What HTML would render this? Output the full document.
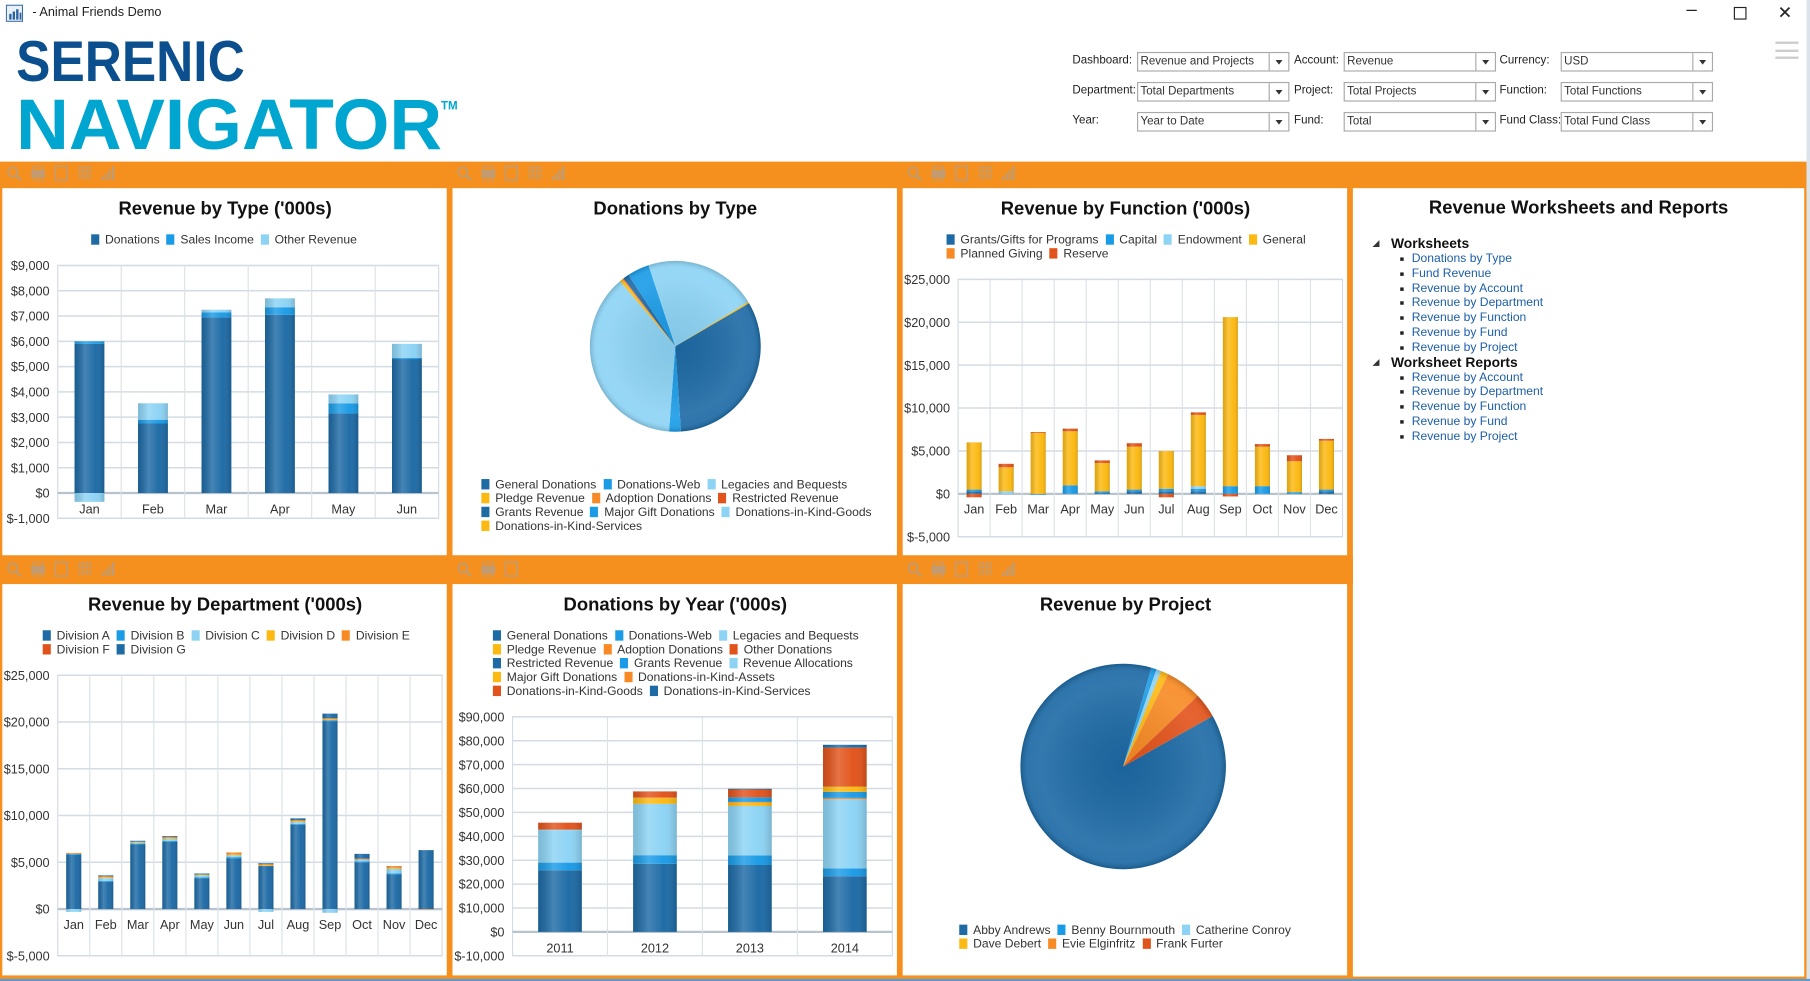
<!DOCTYPE html>
<html><head><meta charset="utf-8">
<style>
html,body{margin:0;padding:0;width:1810px;height:981px;overflow:hidden;background:#fff;font-family:"Liberation Sans",sans-serif;}
#root{position:absolute;left:0;top:0;width:1568px;height:850px;transform:scale(1.15434);transform-origin:0 0;}
.abs{position:absolute;}
.lbl{position:absolute;font-size:10px;color:#222;white-space:nowrap;}
.sel{position:absolute;width:128px;height:15px;border:1px solid #a9a9a9;font-size:10px;color:#333;line-height:15px;padding-left:2px;box-sizing:content-box;background:#fff;white-space:nowrap;}
.sel .arr{position:absolute;right:0;top:0;width:16px;height:15px;border-left:1px solid #a9a9a9;}
.sel .arr:after{content:"";position:absolute;left:5px;top:6px;border-left:3.5px solid transparent;border-right:3.5px solid transparent;border-top:4px solid #333;}
.panel{position:absolute;background:#fff;}
.legend{position:absolute;font-size:10.5px;color:#333;white-space:nowrap;line-height:12px;}
.legend .row{height:12px;}
.legend .it{display:inline-block;margin-right:6px;}
.legend .mk{display:inline-block;width:7px;height:9px;margin-right:5px;vertical-align:-1px;}
.tree{position:absolute;left:1186px;top:205px;font-size:10.5px;}
.tree .h{font-weight:bold;font-size:12px;color:#111;height:13px;line-height:13px;position:relative;padding-left:19px;}
.tree .h:before{content:"";position:absolute;left:3px;top:3px;border-left:6px solid transparent;border-bottom:6px solid #333;}
.tree .i{color:#1d5ea8;height:12.8px;line-height:12.8px;padding-left:37px;position:relative;}
.tree .i:before{content:"";position:absolute;left:27px;top:5px;width:3px;height:3px;background:#222;}
</style></head>
<body>
<div id="root">
  <svg class="abs" style="left:5px;top:4px" width="15" height="15">
    <rect x="0.5" y="0.5" width="14" height="14" fill="#e8f0f8" stroke="#3a6ea5"/>
    <rect x="3" y="8" width="2" height="5" fill="#2a5fa0"/><rect x="6" y="6" width="2" height="7" fill="#2a5fa0"/><rect x="9" y="4" width="2" height="9" fill="#2a5fa0"/><rect x="12" y="7" width="1.5" height="6" fill="#2a5fa0"/>
  </svg>
  <div class="lbl" style="left:28px;top:5px;font-size:11px">- Animal Friends Demo</div>
  <div class="lbl" style="left:1461px;top:0px;font-size:16px">&#8211;</div>
  <div class="abs" style="left:1502px;top:6px;width:9px;height:9px;border:1px solid #222"></div>
  <div class="lbl" style="left:1540px;top:2px;font-size:15px">&#x2715;</div>

  <svg class="abs" style="left:0;top:25px" width="420" height="112">
    <text x="14" y="45" font-family="Liberation Sans Narrow, Liberation Sans, sans-serif" font-weight="bold" font-size="50" fill="#0b4f8e" textLength="198" lengthAdjust="spacingAndGlyphs">SERENIC</text>
    <text x="14" y="104" font-family="Liberation Sans Narrow, Liberation Sans, sans-serif" font-weight="bold" font-size="62" fill="#00a6cf" textLength="369" lengthAdjust="spacingAndGlyphs">NAVIGATOR</text>
    <text x="382" y="70" font-family="Liberation Sans, sans-serif" font-weight="bold" font-size="10" fill="#00a6cf">TM</text>
  </svg>

  <div class="lbl" style="left:929px;top:47px">Dashboard:</div>
  <div class="sel" style="left:985px;top:45px">Revenue and Projects<div class="arr"></div></div>
  <div class="lbl" style="left:1121px;top:47px">Account:</div>
  <div class="sel" style="left:1164px;top:45px">Revenue<div class="arr"></div></div>
  <div class="lbl" style="left:1299px;top:47px">Currency:</div>
  <div class="sel" style="left:1352px;top:45px">USD<div class="arr"></div></div>

  <div class="lbl" style="left:929px;top:73px">Department:</div>
  <div class="sel" style="left:985px;top:71px">Total Departments<div class="arr"></div></div>
  <div class="lbl" style="left:1121px;top:73px">Project:</div>
  <div class="sel" style="left:1164px;top:71px">Total Projects<div class="arr"></div></div>
  <div class="lbl" style="left:1299px;top:73px">Function:</div>
  <div class="sel" style="left:1352px;top:71px">Total Functions<div class="arr"></div></div>

  <div class="lbl" style="left:929px;top:99px">Year:</div>
  <div class="sel" style="left:985px;top:97px">Year to Date<div class="arr"></div></div>
  <div class="lbl" style="left:1121px;top:99px">Fund:</div>
  <div class="sel" style="left:1164px;top:97px">Total<div class="arr"></div></div>
  <div class="lbl" style="left:1299px;top:99px">Fund Class:</div>
  <div class="sel" style="left:1352px;top:97px">Total Fund Class<div class="arr"></div></div>

  <div class="abs" style="left:1538px;top:36px;width:20px;height:15px">
    <div style="height:2px;background:#ccc;margin-bottom:4.5px"></div><div style="height:2px;background:#ccc;margin-bottom:4.5px"></div><div style="height:2px;background:#ccc"></div>
  </div>

  <div class="abs" style="left:0;top:140px;width:1565px;height:709px;background:#f5901e"></div>
  <div class="abs" style="left:1565px;top:0;width:3px;height:850px;background:#dde3ea"></div>
  <div class="abs" style="left:0;top:848px;width:1568px;height:2px;background:#5b9bd5"></div>

  <div class="panel" style="left:2px;top:163px;width:385px;height:318px"></div>
  <div class="panel" style="left:392px;top:163px;width:385px;height:318px"></div>
  <div class="panel" style="left:782px;top:163px;width:385px;height:318px"></div>
  <div class="panel" style="left:1172px;top:163px;width:391px;height:683px"></div>
  <div class="panel" style="left:1168px;top:482px;width:4px;height:24px;background:#f5901e"></div>
  <div class="panel" style="left:2px;top:506px;width:385px;height:339px"></div>
  <div class="panel" style="left:392px;top:506px;width:385px;height:339px"></div>
  <div class="panel" style="left:782px;top:506px;width:385px;height:339px"></div>

  <svg id="charts" class="abs" style="left:0;top:0" width="1568" height="850">
    <defs>
      <linearGradient id="sheen" x1="0" x2="1" y1="0" y2="0">
        <stop offset="0" stop-color="#000" stop-opacity="0.12"/>
        <stop offset="0.35" stop-color="#fff" stop-opacity="0.18"/>
        <stop offset="0.7" stop-color="#fff" stop-opacity="0.02"/>
        <stop offset="1" stop-color="#000" stop-opacity="0.15"/>
      </linearGradient>
      <radialGradient id="pieShade" cx="0.5" cy="0.5" r="0.5">
        <stop offset="0" stop-color="#000" stop-opacity="0.06"/>
        <stop offset="0.8" stop-color="#fff" stop-opacity="0.1"/>
        <stop offset="0.93" stop-color="#fff" stop-opacity="0.08"/>
        <stop offset="1" stop-color="#000" stop-opacity="0.15"/>
      </radialGradient>
    </defs>
  </svg>

  <div class="legend" style="left:79px;top:202px">
    <div class="row"><span class="it"><span class="mk" style="background:#1d6aa5"></span>Donations</span><span class="it"><span class="mk" style="background:#1a9be6"></span>Sales Income</span><span class="it"><span class="mk" style="background:#8cd3f4"></span>Other Revenue</span></div>
  </div>
  <div class="legend" style="left:417px;top:414px">
    <div class="row"><span class="it"><span class="mk" style="background:#1d6aa5"></span>General Donations</span><span class="it"><span class="mk" style="background:#1a9be6"></span>Donations-Web</span><span class="it"><span class="mk" style="background:#8cd3f4"></span>Legacies and Bequests</span></div>
    <div class="row"><span class="it"><span class="mk" style="background:#fcb912"></span>Pledge Revenue</span><span class="it"><span class="mk" style="background:#f78a24"></span>Adoption Donations</span><span class="it"><span class="mk" style="background:#e2531b"></span>Restricted Revenue</span></div>
    <div class="row"><span class="it"><span class="mk" style="background:#1d6aa5"></span>Grants Revenue</span><span class="it"><span class="mk" style="background:#1a9be6"></span>Major Gift Donations</span><span class="it"><span class="mk" style="background:#8cd3f4"></span>Donations-in-Kind-Goods</span></div>
    <div class="row"><span class="it"><span class="mk" style="background:#fcb912"></span>Donations-in-Kind-Services</span></div>
  </div>
  <div class="legend" style="left:820px;top:202px">
    <div class="row"><span class="it"><span class="mk" style="background:#1d6aa5"></span>Grants/Gifts for Programs</span><span class="it"><span class="mk" style="background:#1a9be6"></span>Capital</span><span class="it"><span class="mk" style="background:#8cd3f4"></span>Endowment</span><span class="it"><span class="mk" style="background:#fcb912"></span>General</span></div>
    <div class="row"><span class="it"><span class="mk" style="background:#f78a24"></span>Planned Giving</span><span class="it"><span class="mk" style="background:#e2531b"></span>Reserve</span></div>
  </div>
  <div class="legend" style="left:37px;top:545px">
    <div class="row"><span class="it"><span class="mk" style="background:#1d6aa5"></span>Division A</span><span class="it"><span class="mk" style="background:#1a9be6"></span>Division B</span><span class="it"><span class="mk" style="background:#8cd3f4"></span>Division C</span><span class="it"><span class="mk" style="background:#fcb912"></span>Division D</span><span class="it"><span class="mk" style="background:#f78a24"></span>Division E</span></div>
    <div class="row"><span class="it"><span class="mk" style="background:#e2531b"></span>Division F</span><span class="it"><span class="mk" style="background:#1d6aa5"></span>Division G</span></div>
  </div>
  <div class="legend" style="left:427px;top:545px">
    <div class="row"><span class="it"><span class="mk" style="background:#1d6aa5"></span>General Donations</span><span class="it"><span class="mk" style="background:#1a9be6"></span>Donations-Web</span><span class="it"><span class="mk" style="background:#8cd3f4"></span>Legacies and Bequests</span></div>
    <div class="row"><span class="it"><span class="mk" style="background:#fcb912"></span>Pledge Revenue</span><span class="it"><span class="mk" style="background:#f78a24"></span>Adoption Donations</span><span class="it"><span class="mk" style="background:#e2531b"></span>Other Donations</span></div>
    <div class="row"><span class="it"><span class="mk" style="background:#1d6aa5"></span>Restricted Revenue</span><span class="it"><span class="mk" style="background:#1a9be6"></span>Grants Revenue</span><span class="it"><span class="mk" style="background:#8cd3f4"></span>Revenue Allocations</span></div>
    <div class="row"><span class="it"><span class="mk" style="background:#fcb912"></span>Major Gift Donations</span><span class="it"><span class="mk" style="background:#f78a24"></span>Donations-in-Kind-Assets</span></div>
    <div class="row"><span class="it"><span class="mk" style="background:#e2531b"></span>Donations-in-Kind-Goods</span><span class="it"><span class="mk" style="background:#1d6aa5"></span>Donations-in-Kind-Services</span></div>
  </div>
  <div class="legend" style="left:831px;top:800px">
    <div class="row"><span class="it"><span class="mk" style="background:#1d6aa5"></span>Abby Andrews</span><span class="it"><span class="mk" style="background:#1a9be6"></span>Benny Bournmouth</span><span class="it"><span class="mk" style="background:#8cd3f4"></span>Catherine Conroy</span></div>
    <div class="row"><span class="it"><span class="mk" style="background:#fcb912"></span>Dave Debert</span><span class="it"><span class="mk" style="background:#f78a24"></span>Evie Elginfritz</span><span class="it"><span class="mk" style="background:#e2531b"></span>Frank Furter</span></div>
  </div>

  <div class="abs" style="left:1172px;top:172px;width:391px;text-align:center;font-weight:bold;font-size:16px;color:#111">Revenue Worksheets and Reports</div>
  <div class="tree">
    <div class="h">Worksheets</div>
    <div class="i">Donations by Type</div>
    <div class="i">Fund Revenue</div>
    <div class="i">Revenue by Account</div>
    <div class="i">Revenue by Department</div>
    <div class="i">Revenue by Function</div>
    <div class="i">Revenue by Fund</div>
    <div class="i">Revenue by Project</div>
    <div class="h">Worksheet Reports</div>
    <div class="i">Revenue by Account</div>
    <div class="i">Revenue by Department</div>
    <div class="i">Revenue by Function</div>
    <div class="i">Revenue by Fund</div>
    <div class="i">Revenue by Project</div>
  </div>
</div>

<script>
const DK='#1d6aa5', MD='#1a9be6', LT='#8cd3f4', YE='#fcb912', OR='#f78a24', RD='#e2531b';

const typeMonths=['Jan','Feb','Mar','Apr','May','Jun'];
const typeDonations=[5900,2750,6950,7050,3150,5300];
const typeSales=[100,150,200,300,400,50];
const typeOther=[-350,650,100,350,350,550];

const donTypeLabels=['General Donations','Donations-Web','Legacies and Bequests','Pledge Revenue','Adoption Donations','Restricted Revenue','Grants Revenue','Major Gift Donations','Donations-in-Kind-Goods','Donations-in-Kind-Services'];
const donTypeValues=[116.5,8,135.5,2,0.5,0.5,4,15,77,1];

const funcMonths=['Jan','Feb','Mar','Apr','May','Jun','Jul','Aug','Sep','Oct','Nov','Dec'];
const funcGrants=[300,0,0,0,100,300,300,300,0,0,0,300];
const funcCapital=[200,0,-100,1000,200,200,300,300,900,900,200,200];
const funcEndowment=[0,300,0,0,0,0,0,300,0,0,0,0];
const funcGeneral=[5500,2800,7100,6300,3300,5000,4400,8300,19700,4600,3600,5700];
const funcPlanned=[0,0,0,0,0,0,0,0,0,0,0,0];
const funcReserve=[-400,400,100,300,300,400,-400,300,-300,300,700,200];

const deptMonths=['Jan','Feb','Mar','Apr','May','Jun','Jul','Aug','Sep','Oct','Nov','Dec'];
const deptA=[5800,2900,6900,7200,3300,5400,4600,9000,20100,5000,3700,6300];
const deptB=[100,100,100,100,100,150,0,100,100,100,100,0];
const deptC=[-300,300,100,200,200,200,-300,200,-400,200,500,0];
const deptD=[0,100,100,100,100,100,100,100,100,0,100,0];
const deptE=[100,100,0,100,0,200,100,100,100,100,200,-50];
const deptF=[0,0,0,0,0,0,0,0,0,0,0,0];
const deptG=[0,100,100,100,100,0,100,200,500,500,0,0];

const years=['2011','2012','2013','2014'];
const yrGeneral=[25800,28500,28000,23300];
const yrWeb=[3200,3600,4000,3300];
const yrLegacies=[13500,21500,20700,29000];
const yrPledge=[0,2400,1400,0];
const yrAdoption=[0,300,300,500];
const yrOther=[0,0,0,0];
const yrRestricted=[0,0,0,0];
const yrGrants=[0,0,1900,2500];
const yrAllocations=[300,0,0,0];
const yrMajorGift=[0,0,0,2200];
const yrDikAssets=[0,0,0,0];
const yrDikGoods=[2900,2500,3300,16300];
const yrDikServices=[0,0,300,1200];

const projLabels=['Abby Andrews','Benny Bournmouth','Catherine Conroy','Dave Debert','Evie Elginfritz','Frank Furter'];
const projValues=[315,3,2.7,4.3,20.6,14];

const NS='http://www.w3.org/2000/svg';
const svg=document.getElementById('charts');
function mk(tag,parent){const e=document.createElementNS(NS,tag);parent.appendChild(e);return e;}
function fmt(v){const s=Math.abs(v).toLocaleString('en-US');return v<0?'$-'+s:'$'+s;}

function title(txt,cx,y,name){
  const t=mk('text',svg);
  
  
  t.setAttribute('x',cx);t.setAttribute('y',y);t.setAttribute('text-anchor','middle');
  t.setAttribute('font-size','16');t.setAttribute('font-weight','bold');t.setAttribute('fill','#111');
  t.setAttribute('font-family','Liberation Sans, sans-serif');
  t.textContent=txt;
}

function toolbar(x,y,n,name){
  const g=mk('g',svg);
  
  
  for(let i=0;i<n;i++){
    const ix=x+6+i*20;
    const ic=mk('g',g);
    
    
    ic.setAttribute('opacity','0.55');
    if(i===0){const c=mk('circle',ic);c.setAttribute('cx',ix+5);c.setAttribute('cy',y+6);c.setAttribute('r',4);c.setAttribute('fill','none');c.setAttribute('stroke','#9aa6b4');c.setAttribute('stroke-width','1.6');
      const l=mk('line',ic);l.setAttribute('x1',ix+8);l.setAttribute('y1',y+9);l.setAttribute('x2',ix+12);l.setAttribute('y2',y+13);l.setAttribute('stroke','#9aa6b4');l.setAttribute('stroke-width','2');}
    else if(i===1){const r=mk('rect',ic);r.setAttribute('x',ix+1);r.setAttribute('y',y+4);r.setAttribute('width',12);r.setAttribute('height',7);r.setAttribute('fill','#9aa6b4');
      const r2=mk('rect',ic);r2.setAttribute('x',ix+3);r2.setAttribute('y',y+1);r2.setAttribute('width',8);r2.setAttribute('height',12);r2.setAttribute('fill','none');r2.setAttribute('stroke','#9aa6b4');}
    else if(i===2){const r=mk('rect',ic);r.setAttribute('x',ix+2);r.setAttribute('y',y+1);r.setAttribute('width',10);r.setAttribute('height',12);r.setAttribute('fill','none');r.setAttribute('stroke','#9aa6b4');r.setAttribute('stroke-width','1.4');}
    else if(i===3){for(let a=0;a<4;a++)for(let b=0;b<4;b++){const r=mk('rect',ic);r.setAttribute('x',ix+2+a*3);r.setAttribute('y',y+1+b*3);r.setAttribute('width',2);r.setAttribute('height',2);r.setAttribute('fill','#9aa6b4');}}
    else {for(let a=0;a<4;a++){const r=mk('rect',ic);r.setAttribute('x',ix+2+a*3);r.setAttribute('y',y+13-(a+1)*3);r.setAttribute('width',2);r.setAttribute('height',(a+1)*3);r.setAttribute('fill','#9aa6b4');}}
  }
}

function barChart(o){
  const g=mk('g',svg);
  
  
  const {x0,x1,yTop,yBot,vmin,vmax,step,cats,series,colors}=o;
  const y=v=>yTop+(vmax-v)/(vmax-vmin)*(yBot-yTop);
  const band=(x1-x0)/cats.length;
  const bg=mk('rect',g);bg.setAttribute('x',x0);bg.setAttribute('y',yTop);bg.setAttribute('width',x1-x0);bg.setAttribute('height',yBot-yTop);bg.setAttribute('fill','#fff');bg.setAttribute('stroke','#d3dce4');
  for(let v=vmin;v<=vmax;v+=step){
    const l=mk('line',g);
    
    
    l.setAttribute('x1',x0);l.setAttribute('x2',x1);l.setAttribute('y1',y(v));l.setAttribute('y2',y(v));
    l.setAttribute('stroke',v===0?'#b7c3cd':'#d3dce4');l.setAttribute('stroke-width',v===0?2:1.3);
    const t=mk('text',g);
    
    
    t.setAttribute('x',x0-7);t.setAttribute('y',y(v)+4);t.setAttribute('text-anchor','end');t.setAttribute('font-size','11');t.setAttribute('fill','#333');t.setAttribute('font-family','Liberation Sans, sans-serif');
    t.textContent=fmt(v);
  }
  for(let i=1;i<cats.length;i++){
    const l=mk('line',g);l.setAttribute('x1',x0+i*band);l.setAttribute('x2',x0+i*band);l.setAttribute('y1',yTop);l.setAttribute('y2',yBot);l.setAttribute('stroke','#dbe2e8');
  }
  const bw=band*o.frac;
  cats.forEach((c,i)=>{
    const cx=x0+band*(i+0.5);
    let pos=0,neg=0;
    series.forEach((s,k)=>{
      const v=s[i]; if(!v) return;
      let a,b; if(v>0){a=pos;b=pos+v;pos=b;}else{a=neg;b=neg+v;neg=b;}
      const top=y(Math.max(a,b)), h=Math.abs(y(a)-y(b));
      const r=mk('rect',g);
      
      
      r.setAttribute('x',cx-bw/2);r.setAttribute('y',top);r.setAttribute('width',bw);r.setAttribute('height',h);r.setAttribute('fill',colors[k]);
      const s2=mk('rect',g);s2.setAttribute('x',cx-bw/2);s2.setAttribute('y',top);s2.setAttribute('width',bw);s2.setAttribute('height',h);s2.setAttribute('fill','url(#sheen)');
    });
    const t=mk('text',g);
    
    
    t.setAttribute('x',cx);t.setAttribute('y',o.labelY);t.setAttribute('text-anchor','middle');t.setAttribute('font-size','11');t.setAttribute('fill','#333');t.setAttribute('font-family','Liberation Sans, sans-serif');
    t.textContent=c;
  });
}

function pie(o){
  const g=mk('g',svg);
  
  
  const tot=o.values.reduce((a,b)=>a+b,0);
  let ang=o.start;
  o.values.forEach((v,k)=>{
    const a0=ang, a1=ang+v/tot*360; ang=a1;
    const p=(a)=>[o.cx+o.r*Math.sin(a*Math.PI/180), o.cy-o.r*Math.cos(a*Math.PI/180)];
    const [sx,sy]=p(a0),[ex,ey]=p(a1);
    const path=mk('path',g);
    
    
    path.setAttribute('d',`M${o.cx},${o.cy} L${sx},${sy} A${o.r},${o.r} 0 ${a1-a0>180?1:0} 1 ${ex},${ey} Z`);
    path.setAttribute('fill',o.colors[k]);
  });
  const c=mk('circle',g);c.setAttribute('cx',o.cx);c.setAttribute('cy',o.cy);c.setAttribute('r',o.r);c.setAttribute('fill','url(#pieShade)');
}

toolbar(0,143,5,'revenue-by-type-toolbar');
toolbar(390,143,5,'donations-by-type-toolbar');
toolbar(780,143,5,'revenue-by-function-toolbar');
toolbar(0,486,5,'revenue-by-department-toolbar');
toolbar(390,486,3,'donations-by-year-toolbar');
toolbar(780,486,5,'revenue-by-project-toolbar');

title("Revenue by Type ('000s)",195,186,'revenue-by-type-title');
title('Donations by Type',585,186,'donations-by-type-title');
title("Revenue by Function ('000s)",975,186,'revenue-by-function-title');
title("Revenue by Department ('000s)",195,529,'revenue-by-department-title');
title("Donations by Year ('000s)",585,529,'donations-by-year-title');
title('Revenue by Project',975,529,'revenue-by-project-title');

barChart({name:'revenue-by-type-chart',x0:50,x1:380,yTop:230,yBot:449,vmin:-1000,vmax:9000,step:1000,cats:typeMonths,
  series:[typeDonations,typeSales,typeOther],colors:[DK,MD,LT],frac:0.47,labelY:445});
pie({name:'donations-by-type-pie',cx:585,cy:300,r:74,start:59.7,values:donTypeValues,colors:[DK,MD,LT,YE,OR,RD,DK,MD,LT,YE]});
barChart({name:'revenue-by-function-chart',x0:830,x1:1163,yTop:242,yBot:465,vmin:-5000,vmax:25000,step:5000,cats:funcMonths,
  series:[funcGrants,funcCapital,funcEndowment,funcGeneral,funcPlanned,funcReserve],colors:[DK,MD,LT,YE,OR,RD],frac:0.47,labelY:445});
barChart({name:'revenue-by-department-chart',x0:50,x1:383,yTop:585,yBot:828,vmin:-5000,vmax:25000,step:5000,cats:deptMonths,
  series:[deptA,deptB,deptC,deptD,deptE,deptF,deptG],colors:[DK,MD,LT,YE,OR,RD,DK],frac:0.47,labelY:805});
barChart({name:'donations-by-year-chart',x0:444,x1:773,yTop:621,yBot:828,vmin:-10000,vmax:90000,step:10000,cats:years,
  series:[yrGeneral,yrWeb,yrLegacies,yrPledge,yrAdoption,yrOther,yrRestricted,yrGrants,yrAllocations,yrMajorGift,yrDikAssets,yrDikGoods,yrDikServices],
  colors:[DK,MD,LT,YE,OR,RD,DK,MD,LT,YE,OR,RD,DK],frac:0.46,labelY:825});
pie({name:'revenue-by-project-pie',cx:973,cy:664,r:89,start:60.6,values:projValues,colors:[DK,MD,LT,YE,OR,RD]});
</script>
</body></html>
